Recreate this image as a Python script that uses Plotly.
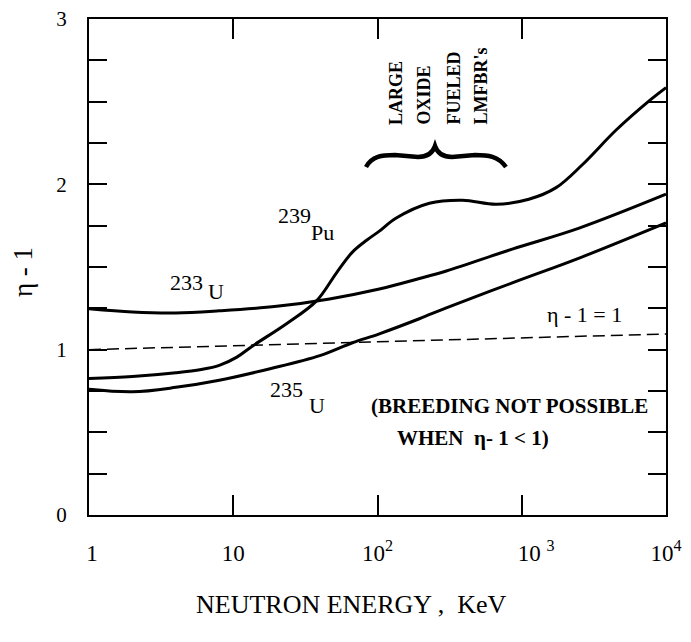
import plotly.graph_objects as go

# ---------------- data ----------------
energy_pu239 = [1, 2, 4, 6, 8, 10.6, 13.7, 23.4, 37.8, 52, 67, 85, 103, 134, 229, 389, 667, 1120, 1730, 2640, 4530, 7640, 10000]
eta_pu239 = [0.825, 0.837, 0.86, 0.88, 0.905, 0.955, 1.024, 1.157, 1.295, 1.465, 1.59, 1.665, 1.717, 1.795, 1.886, 1.904, 1.88, 1.91, 1.98, 2.12, 2.33, 2.505, 2.585]

energy_u233 = [1, 2, 4, 8, 20, 46.5, 103, 195, 300, 860, 2500, 10000]
eta_u233 = [1.248, 1.228, 1.222, 1.235, 1.262, 1.307, 1.367, 1.43, 1.476, 1.608, 1.735, 1.94]

energy_u235 = [1, 2, 4, 8, 18, 39.8, 67, 103, 195, 300, 860, 2500, 10000]
eta_u235 = [0.76, 0.745, 0.772, 0.815, 0.885, 0.964, 1.042, 1.096, 1.187, 1.253, 1.404, 1.554, 1.767]

energy_threshold = [1, 10000]
eta_threshold = [1.0, 1.095]

x_tick_vals = [1, 10, 100, 1000, 10000]
x_tick_text = ["&nbsp;1", "10", "10<sup>2</sup>", "&nbsp;&nbsp;&nbsp;&nbsp;&nbsp;10 <sup>3</sup>", "10<sup>4</sup>"]
y_tick_vals = [0, 1, 2, 3]
y_tick_text = ["0", "1", "2", "3"]
y_minor_step = 0.25

# ---------------- layout helpers ----------------
# the page body has an 8px margin, so the figure is drawn 8px right/down
OFF = 8
W, H = 691 - OFF, 642 - OFF
PLOT_L, PLOT_R, PLOT_T, PLOT_B = 89, 666, 19, 515  # screen pixels of plot area
L, R, T, B = PLOT_L - OFF, W - (PLOT_R - OFF), PLOT_T - OFF, H - (PLOT_B - OFF)
SERIF = "Liberation Serif"


def px(x):
    return (x - PLOT_L) / (PLOT_R - PLOT_L)


def py(y):
    return (PLOT_B - y) / (PLOT_B - PLOT_T)


fig = go.Figure()

for xs, ys in [(energy_u233, eta_u233), (energy_pu239, eta_pu239), (energy_u235, eta_u235)]:
    fig.add_trace(go.Scatter(x=xs, y=ys, mode="lines",
                             line=dict(color="black", width=3, shape="spline", smoothing=1.0),
                             showlegend=False, hoverinfo="skip"))

fig.add_trace(go.Scatter(x=energy_threshold, y=eta_threshold, mode="lines",
                         line=dict(color="black", width=1.5, dash="12px,6px"),
                         showlegend=False, hoverinfo="skip"))

annotations = []


def add_text(text, x, y, size=20, angle=0, xanchor="center", yanchor="middle"):
    annotations.append(dict(text=text, x=px(x), y=py(y), xref="paper", yref="paper",
                            showarrow=False, textangle=angle, xanchor=xanchor, yanchor=yanchor,
                            font=dict(family=SERIF, size=size, color="black")))


# isotope labels
add_text("233", 186, 282, size=22)
add_text("U", 216, 291, size=22)
add_text("235", 286, 389, size=22)
add_text("U", 317, 405, size=22)
add_text("239", 294, 215, size=22)
add_text("Pu", 322, 233, size=22)

add_text("\u03b7 - 1 = 1", 584, 314, size=22)
add_text("<b>(BREEDING NOT POSSIBLE</b>", 510, 406, size=21)
add_text("<b>WHEN  \u03b7- 1 &lt; 1)</b>", 473, 438, size=21)

for word, xc in [("LARGE", 396), ("OXIDE", 423), ("FUELED", 453), ("LMFBR's", 480)]:
    add_text("<b>" + word + "</b>", xc, 127, size=18, angle=-90, yanchor="bottom")

# axis titles
add_text("\u03b7 - 1", 23, 272, size=27, angle=-90)
add_text("NEUTRON ENERGY ,  KeV", 351, 604, size=26)

# curly brace
pts = [(366, 167), (372, 156), (382, 155), (395, 155), (418, 157), (428, 157), (433, 152), (435, 146),
       (437, 152), (442, 157), (452, 157), (475, 155), (488, 155), (498, 156), (506, 167)]
P = [f"{px(a):.5f},{py(b):.5f}" for a, b in pts]
brace = (f"M {P[0]} C {P[1]} {P[2]} {P[3]} L {P[4]} C {P[5]} {P[6]} {P[7]} "
         f"C {P[8]} {P[9]} {P[10]} L {P[11]} C {P[12]} {P[13]} {P[14]}")

fig.update_layout(
    width=W, height=H,
    margin=dict(l=L, r=R, t=T, b=B, pad=0, autoexpand=False),
    paper_bgcolor="white", plot_bgcolor="white",
    annotations=annotations,
    shapes=[dict(type="path", path=brace, xref="paper", yref="paper",
                 line=dict(color="black", width=4.5))],
    xaxis=dict(type="log", range=[0, 4], tickvals=x_tick_vals, ticktext=x_tick_text,
               ticks="inside", ticklen=20, tickwidth=1.5, tickcolor="black",
               showline=True, linewidth=2, linecolor="black", mirror="ticks",
               showgrid=False, zeroline=False, ticklabelstandoff=16, automargin=False,
               ticklabeloverflow="allow",
               tickfont=dict(family=SERIF, size=23, color="black")),
    yaxis=dict(range=[0, 3], tickvals=y_tick_vals, ticktext=y_tick_text,
               ticks="inside", ticklen=18, tickwidth=1.5, tickcolor="black",
               showline=True, linewidth=2, linecolor="black", mirror="ticks",
               showgrid=False, zeroline=False, ticklabelstandoff=16, automargin=False,
               ticklabeloverflow="allow",
               minor=dict(dtick=y_minor_step, ticks="inside", ticklen=18, tickwidth=1.5,
                          tickcolor="black", showgrid=False),
               tickfont=dict(family=SERIF, size=21, color="black")),
)

fig.write_html("out.html")
